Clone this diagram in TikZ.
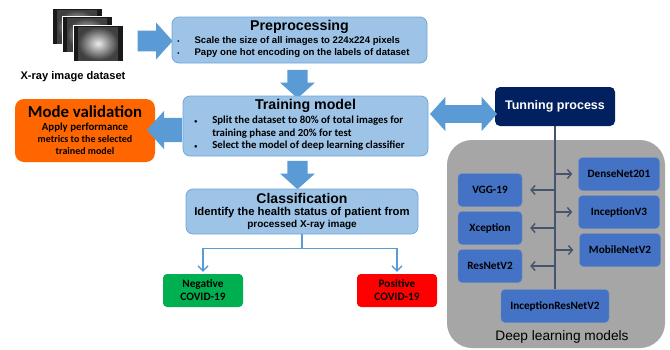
\documentclass[tikz,border=0pt]{standalone}
\usepackage{fontspec}
\setmainfont{Liberation Sans}
\newfontfamily\calFont{Carlito}
\usetikzlibrary{shapes.arrows,arrows.meta}
\definecolor{boxBlue}{HTML}{9DC3E6}
\definecolor{edgeBlue}{HTML}{6FA8DC}
\definecolor{arrowBlue}{HTML}{5B9BD5}
\definecolor{tuneNavy}{HTML}{002060}
\definecolor{modelBlue}{HTML}{4472C4}
\definecolor{spineSlate}{HTML}{44546A}
\definecolor{panelGray}{HTML}{A6A6A6}
\definecolor{valOrange}{HTML}{FF6600}
\definecolor{negGreen}{HTML}{00B050}
\definecolor{posRed}{HTML}{FF0000}
%
\newcommand{\titleFont}{\fontsize{14.2}{16}\selectfont\bfseries}
\newcommand{\prepFont}{\fontsize{9.6}{12}\selectfont\bfseries}
\newcommand{\trainFont}{\fontsize{10.8}{12.5}\selectfont\calFont\bfseries}
\newcommand{\dotItem}{{\fontsize{6}{6}\selectfont\textbullet}}
%
\newcommand{\xrayImage}[2]{%%
  \fill[black!90,draw=white,line width=0.6pt] (#1,#2) rectangle ++(50,36);
  \fill[inner color=gray!15,outer color=black!75] (#1+5,#2+2) rectangle ++(40,33);
}
\newcommand{\rightBranch}[1]{%%
  \draw[branchStyle] (irn.north |- #1) -- ([xshift=-6pt]#1.west);
}
\newcommand{\leftBranch}[1]{%%
  \draw[branchStyle] (irn.north |- #1) -- ([xshift=8pt]#1.east);
}
\begin{document}
\begin{tikzpicture}[%%
  x=1pt,y=-1pt,%%
  blueBox/.style={draw=edgeBlue,fill=boxBlue,rounded corners=7pt,line width=0.8pt,inner sep=0pt},%%
  blockArrow/.style={single arrow,fill=arrowBlue,single arrow tip angle=96},%%
  colourBox/.style={rounded corners=4pt,inner sep=0pt,align=center,font=\fontsize{11.3}{13}\selectfont\calFont\bfseries},%%
  modelStyle/.style={fill=modelBlue,draw=modelBlue!80!white,rounded corners=4pt,minimum height=33pt,inner sep=0pt,font=\fontsize{11.2}{13}\selectfont\calFont\bfseries},%%
  branchStyle/.style={-{Straight Barb[length=4pt,width=9pt]},line width=1.4pt,spineSlate},%%
  splitStyle/.style={-{Straight Barb[length=5pt,width=10pt]},line width=1.3pt,arrowBlue}
]
\useasboundingbox (0,0) rectangle (670,349);
%
% The input images.
\xrayImage{52}{8}
\xrayImage{62}{16}
\xrayImage{73}{25}
\node[font=\fontsize{11.1}{13}\selectfont\bfseries] (xrayLabel) at (73,77) {X-ray image dataset};
\node[blockArrow,inner sep=9pt,minimum height=35pt,minimum width=37pt] (arrIn) at (150.5,41) {};
%
% Preprocessing and training.
\node[blueBox,minimum width=255pt,minimum height=46pt] (prep) at (299.5,40) {%
  \begin{tabular}{@{}c@{}}
  \titleFont Preprocessing\\[1pt]
  \prepFont\begin{tabular}{@{}l@{\hspace{15pt}}l@{\hspace{12pt}}}
  \dotItem & Scale the size of all images to 224x224 pixels\\
  \dotItem & Papy one hot encoding on the labels of dataset
  \end{tabular}
  \end{tabular}};
\node[blockArrow,inner sep=9.5pt,minimum height=25pt,minimum width=35pt,shape border rotate=270] (arrDownA) at (297.5,79.5) {};
\node[blueBox,minimum width=245pt,minimum height=60pt] (train) at (305.5,126) {%
  \begin{tabular}{@{}c@{}}
  \titleFont Training model\\[2pt]
  \trainFont\begin{tabular}{@{}l@{\hspace{15pt}}l@{\hspace{12pt}}}
  \dotItem & Split the dataset to 80\% of total images for\\
   & training phase and 20\% for test\\
  \dotItem & Select the model of deep learning classifier
  \end{tabular}
  \end{tabular}};
%
% Validation and tuning.
\node[fill=valOrange,rounded corners=9pt,minimum width=140pt,minimum height=63pt,align=center,inner sep=0pt,font=\calFont\bfseries] (mode) at (85,130.5) {%
  {\fontsize{16.8}{18}\selectfont Mode validation}\\[1pt]
  \fontsize{10.8}{13.5}\selectfont Apply performance\\ metrics to the selected\\ trained model};
\node[blockArrow,inner sep=12pt,minimum height=26pt,minimum width=36pt,shape border rotate=180] (arrOut) at (170,130) {};
\node[fill=tuneNavy,rounded corners=5pt,minimum width=120pt,minimum height=39pt,text=white,font=\fontsize{12.5}{14}\selectfont\bfseries] (tune) at (555,106.5) {Tunning process};
\node[double arrow,fill=arrowBlue,inner sep=7.5pt,minimum height=67pt,minimum width=34pt,double arrow tip angle=96] (arrBoth) at (463.5,114) {};
%
% Classification.
\node[blockArrow,inner sep=9.5pt,minimum height=25pt,minimum width=35pt,shape border rotate=270] (arrDownB) at (297.5,170.5) {};
\node[blueBox,minimum width=232pt,minimum height=45pt,align=center,font=\bfseries] (classif) at (302,211.5) {%
  {\fontsize{14}{16}\selectfont Classification}\\[0pt]
  \fontsize{11.3}{14}\selectfont Identify the health status of patient from\\ processed X-ray image};
\node[colourBox,fill=negGreen,minimum width=80pt,minimum height=33pt] (neg) at (203,290.5) {Negative\\COVID-19};
\node[colourBox,fill=posRed,minimum width=80pt,minimum height=33pt] (pos) at (397,290.5) {Positive\\COVID-19};
\draw[line width=1.3pt,arrowBlue] (classif.south) -- ++(0,14) coordinate (split);
\draw[splitStyle,shorten >=2pt] (split) -| (neg.north);
\draw[splitStyle,shorten >=2pt] (split) -| (pos.north);
%
% The deep learning models.
\node[fill=panelGray,rounded corners=25pt,minimum width=218pt,minimum height=208pt,inner sep=0pt] (panel) at (556,244) {};
\node[font=\fontsize{13.7}{15}\selectfont] (panelLabel) at (562,337) {Deep learning models};
\node[modelStyle,minimum width=81pt] (dense) at (619,174) {DenseNet201};
\node[modelStyle,minimum width=81pt] (incv) at (619,212) {InceptionV3};
\node[modelStyle,minimum width=81pt] (mobile) at (620,250) {MobileNetV2};
\node[modelStyle,minimum width=64pt] (vgg) at (490,190) {VGG-19};
\node[modelStyle,minimum width=64pt] (xcep) at (490,228) {Xception};
\node[modelStyle,minimum width=64pt] (resnet) at (490,266) {ResNetV2};
\node[modelStyle,minimum width=108pt] (irn) at (555,306) {InceptionResNetV2};
\draw[line width=1.6pt,spineSlate] (tune.south) -- (irn.north);
\foreach \m in {dense,incv,mobile}{
  \rightBranch{\m}
};
\foreach \m in {vgg,xcep,resnet}{
  \leftBranch{\m}
};
\end{tikzpicture}
\end{document}
